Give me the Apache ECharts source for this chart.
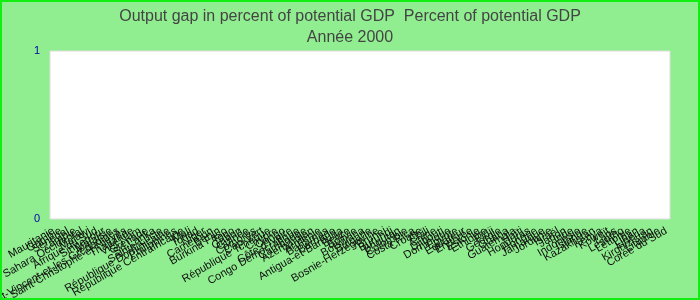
<!DOCTYPE html>
<html>
<head>
<meta charset="utf-8">
<script src="https://cdn.jsdelivr.net/npm/echarts@6/dist/echarts.min.js"></script>
<style>
html,body{margin:0;padding:0;background:#90ee90;}
#c{width:700px;height:300px;}
</style>
</head>
<body>
<div id="c"></div>
<script>
const titleText = "Output gap in percent of potential GDP  Percent of potential GDP";
const subtitleText = "Année 2000";
const categories = [
  "Mauritanie","Gambie","Sénégal","Zambie","Sahara Occidental","Malawi","Afrique du Sud","Singapour","Malaisie",
  "Saint-Vincent-et-les Grenadines","Saint-Christophe-et-Niévès","Thaïlande","Viêt Nam","Grenade","Sri Lanka",
  "Sainte-Lucie","République Dominicaine","Philippines","République Centrafricaine","Mali","Tchad","Niger",
  "Cameroun","Bénin","Burkina Faso","Togo","Gabon","Guinée","Comores","Cap-Vert","République Tchèque","Chypre",
  "Congo","Côte d'Ivoire","Congo Démocratique","Cambodge","Azerbaïdjan","Arménie","Bahamas","Barbade",
  "Antigua-et-Barbuda","Belize","Bolivie","Botswana","Bulgarie","Bosnie-Herzégovine","Brunei","Burundi",
  "Bhoutan","Colombie","Costa Rica","Croatie","Chili","Chine","Djibouti","Dominique","Égypte","Équateur",
  "Érythrée","Estonie","Éthiopie","Fidji","Géorgie","Ghana","Guatemala","Haïti","Honduras","Hongrie",
  "Jamaïque","Jordanie","Israël","Japon","Inde","Indonésie","Islande","Kazakhstan","Kenya","Koweït","Laos",
  "Lesotho","Lettonie","Liban","Libéria","Kirghizistan","Lituanie","Corée du Sud"
];
const values = categories.map(() => null);
const yMin = 0, yMax = 1, yInterval = 1;

const chart = echarts.init(document.getElementById('c'), null, {renderer:'canvas'});
chart.setOption({
  backgroundColor: '#90ee90',
  animation: false,
  title: {
    text: titleText,
    subtext: subtitleText,
    left: 'center',
    top: 4,
    itemGap: 5,
    textStyle: {fontSize: 16, fontWeight: 'normal', color: '#444', fontFamily: 'Liberation Sans, Arial, sans-serif'},
    subtextStyle: {fontSize: 16, color: '#444', fontFamily: 'Liberation Sans, Arial, sans-serif'}
  },
  grid: {left: 50, right: 30, top: 51, bottom: 81, show: true, backgroundColor: '#fff', borderColor: '#ddd', borderWidth: 1, outerBoundsMode: 'none', containLabel: false},
  xAxis: {
    type: 'category',
    data: categories,
    axisLine: {show: false},
    axisTick: {show: false},
    axisLabel: {interval: 0, rotate: 30, fontSize: 11, color: '#111', margin: 11, fontFamily: 'Liberation Sans, Arial, sans-serif'}
  },
  yAxis: {
    type: 'value',
    min: yMin, max: yMax, interval: yInterval,
    splitLine: {show: false},
    axisLine: {show: false},
    axisTick: {show: false},
    axisLabel: {color: '#0000aa', fontSize: 11, margin: 10, fontFamily: 'Liberation Sans, Arial, sans-serif'}
  },
  series: [{type: 'bar', data: values}],
  graphic: [{
    type: 'rect', silent: true, z: 100,
    shape: {x: 1, y: 1, width: 698, height: 298},
    style: {fill: null, stroke: '#11ee11', lineWidth: 2}
  }]
});
</script>
</body>
</html>
